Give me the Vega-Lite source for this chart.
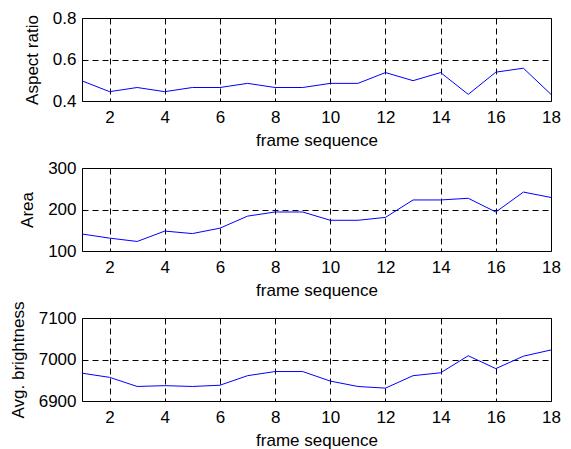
{
  "$schema": "https://vega.github.io/schema/vega-lite/v6.json",
  "background": "white",
  "padding": {"left": 8, "top": 8, "right": 18, "bottom": 0},
  "bounds": "flush",
  "spacing": 67,
  "config": {
    "font": "Liberation Sans",
    "view": {"stroke": "black", "strokeWidth": 1},
    "axis": {
      "labelFont": "Liberation Sans",
      "labelFontSize": 17,
      "labelColor": "black",
      "titleFont": "Liberation Sans",
      "titleFontSize": 17,
      "titleFontWeight": "normal",
      "titleColor": "black",
      "domain": false,
      "ticks": false,
      "grid": true,
      "gridColor": "black",
      "gridDash": [6, 4],
      "gridWidth": 1,
      "gridOpacity": 1
    },
    "axisX": {"labelPadding": 8, "titlePadding": 7, "labelFlush": false},
    "axisY": {"labelPadding": 6, "titlePadding": 11, "labelFlush": false}
  },
  "datasets": {
    "d": [
      {"frame": 1, "aspect": 0.497, "area": 141, "brightness": 6967},
      {"frame": 2, "aspect": 0.445, "area": 131, "brightness": 6957},
      {"frame": 3, "aspect": 0.465, "area": 123, "brightness": 6935},
      {"frame": 4, "aspect": 0.445, "area": 148, "brightness": 6937},
      {"frame": 5, "aspect": 0.465, "area": 142, "brightness": 6935},
      {"frame": 6, "aspect": 0.465, "area": 155, "brightness": 6938},
      {"frame": 7, "aspect": 0.485, "area": 184, "brightness": 6961},
      {"frame": 8, "aspect": 0.465, "area": 194, "brightness": 6971},
      {"frame": 9, "aspect": 0.465, "area": 194, "brightness": 6971},
      {"frame": 10, "aspect": 0.485, "area": 174, "brightness": 6948},
      {"frame": 11, "aspect": 0.485, "area": 174, "brightness": 6935},
      {"frame": 12, "aspect": 0.537, "area": 181, "brightness": 6931},
      {"frame": 13, "aspect": 0.498, "area": 223, "brightness": 6961},
      {"frame": 14, "aspect": 0.537, "area": 223, "brightness": 6968},
      {"frame": 15, "aspect": 0.432, "area": 227, "brightness": 7009},
      {"frame": 16, "aspect": 0.539, "area": 194, "brightness": 6978},
      {"frame": 17, "aspect": 0.558, "area": 242, "brightness": 7008},
      {"frame": 18, "aspect": 0.432, "area": 229, "brightness": 7023}
    ]
  },
  "vconcat": [
    {
      "width": 469,
      "height": 83,
      "data": {"name": "d"},
      "mark": {"type": "line", "color": "#0000ff", "strokeWidth": 1},
      "encoding": {
        "x": {"field": "frame", "type": "quantitative", "scale": {"domain": [1, 18], "nice": false, "zero": false},
              "axis": {"values": [2, 4, 6, 8, 10, 12, 14, 16, 18], "title": "frame sequence"}},
        "y": {"field": "aspect", "type": "quantitative", "scale": {"domain": [0.4, 0.8], "nice": false, "zero": false},
              "axis": {"values": [0.4, 0.6, 0.8], "format": ".1f", "title": "Aspect ratio"}}
      }
    },
    {
      "width": 469,
      "height": 83,
      "data": {"name": "d"},
      "mark": {"type": "line", "color": "#0000ff", "strokeWidth": 1},
      "encoding": {
        "x": {"field": "frame", "type": "quantitative", "scale": {"domain": [1, 18], "nice": false, "zero": false},
              "axis": {"values": [2, 4, 6, 8, 10, 12, 14, 16, 18], "title": "frame sequence"}},
        "y": {"field": "area", "type": "quantitative", "scale": {"domain": [100, 300], "nice": false, "zero": false},
              "axis": {"values": [100, 200, 300], "title": "Area"}}
      }
    },
    {
      "width": 469,
      "height": 83,
      "data": {"name": "d"},
      "mark": {"type": "line", "color": "#0000ff", "strokeWidth": 1},
      "encoding": {
        "x": {"field": "frame", "type": "quantitative", "scale": {"domain": [1, 18], "nice": false, "zero": false},
              "axis": {"values": [2, 4, 6, 8, 10, 12, 14, 16, 18], "title": "frame sequence"}},
        "y": {"field": "brightness", "type": "quantitative", "scale": {"domain": [6900, 7100], "nice": false, "zero": false},
              "axis": {"values": [6900, 7000, 7100], "format": "d", "title": "Avg. brightness"}}
      }
    }
  ]
}
